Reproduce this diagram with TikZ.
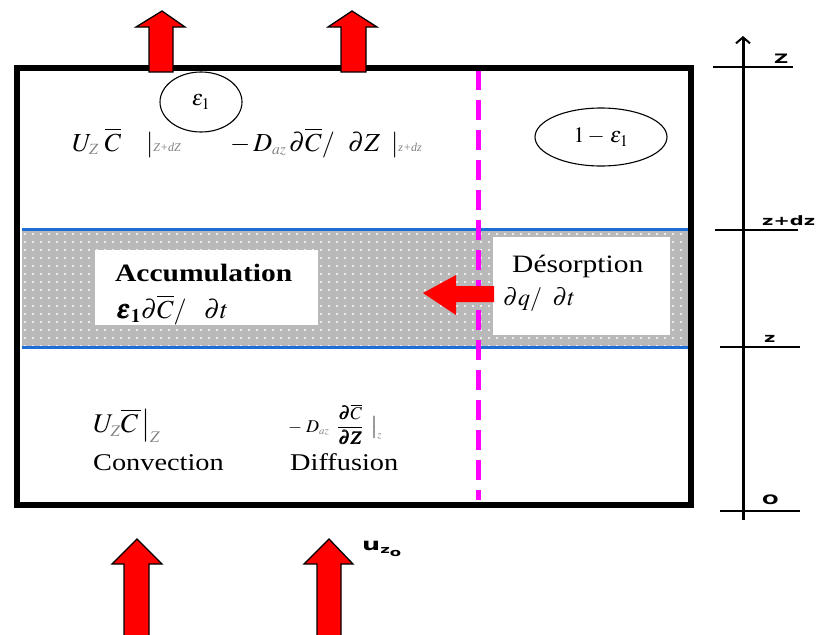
\documentclass[tikz,border=0pt]{standalone}
\usepackage{amsmath}
\usepackage{mathptmx}
\usepackage{bm}
\usepackage{fontspec}
\setmainfont{Liberation Serif}
\newfontfamily\widefont{Liberation Serif}[FakeStretch=1.18]
\newfontfamily\axfont{DejaVu Sans}[FakeStretch=1.5]
\usetikzlibrary{shapes.geometric,patterns.meta,arrows.meta}
\definecolor{bandblue}{RGB}{30,110,215}
\definecolor{bandgray}{RGB}{185,185,185}
\definecolor{mag}{RGB}{255,0,255}
\newcommand\sbx[1]{\textcolor{gray}{\scriptscriptstyle #1}}
\newcommand\lowtxt[1]{\textcolor{gray}{\fontsize{12}{13}\selectfont\itshape #1}}
\tikzdeclarepattern{name=mydots, type=uncolored,
  bottom left={(0pt,0pt)}, top right={(8pt,8pt)}, tile size={(8pt,8pt)},
  code={\fill (0pt,0pt) rectangle (2pt,2pt);}}
\tikzset{
  txt/.style={inner sep=0pt, font=\widefont\fontsize{24}{28}\selectfont},
  axlab/.style={inner sep=0pt, font=\axfont\bfseries\fontsize{13}{15}\selectfont},
  whitebox/.style={fill=white, draw=none, inner sep=0pt, anchor=north west},
  upblock/.style={fill=red, draw=black, line width=1.3pt, line join=miter},
  tick/.style={line width=1.3pt},
  ell/.style={ellipse, draw=black, line width=1.1pt, inner sep=0pt}
}
\begin{document}
\begin{tikzpicture}[x=1pt,y=-1pt]
\useasboundingbox (0,0) rectangle (839,635);
% packed bed band
\fill[bandgray] (22,231) rectangle (688,346);
\fill[pattern=mydots, pattern color=white!75!bandgray] (22,231) rectangle (688,346);
\draw[bandblue, line width=3pt] (22,229) -- (688,229);
\draw[bandblue, line width=3pt] (22,347) -- (688,347);
% white boxes
\node[whitebox, minimum width=223pt, minimum height=75pt] (accbox) at (95,250) {};
\node[whitebox, minimum width=177pt, minimum height=98pt] (desbox) at (493,237) {};
% magenta dashed line
\coordinate (mtop) at (478,70);
\coordinate (mbot) at (478,500);
\draw[mag, line width=5pt, dash pattern=on 20pt off 10pt] (mtop) -- (mbot);
% red desorption arrow
\fill[red] (423,293) -- (456,275) -- (456,286) -- (494,286) -- (494,302) -- (456,302) -- (456,315) -- cycle;
% column frame
\draw[line width=6pt] (17,68) rectangle (691,505);
% outlet arrows
\draw[upblock] (149,72) -- (149,27) -- (136,27) -- (162,11) -- (185,27) -- (173,27) -- (173,72) -- cycle;
\draw[upblock] (341,72) -- (341,27) -- (328,27) -- (352,11) -- (377,27) -- (366,27) -- (366,72) -- cycle;
% inlet arrows
\draw[upblock] (124,640) -- (124,564) -- (112,564) -- (137,539) -- (162,564) -- (149,564) -- (149,640) -- cycle;
\draw[upblock] (317,640) -- (317,564) -- (304,564) -- (329,539) -- (353,564) -- (341,564) -- (341,640) -- cycle;
\node[inner sep=0pt, anchor=base west, font=\axfont\bfseries\fontsize{17}{19}\selectfont] (uz) at (362,550) {u\raisebox{-3pt}{\fontsize{11}{12}\selectfont z\raisebox{-3pt}{o}}};
% porosity ellipses
\node[ell, minimum width=82pt, minimum height=60pt, font=\fontsize{22}{26}\selectfont] (e1) at (201,102) {$\varepsilon_1$};
\node[ell, minimum width=132pt, minimum height=58pt, font=\fontsize{22}{26}\selectfont] (e2) at (601,137) {$1-\,\varepsilon_1$};
% top flux
\node[txt, anchor=base west, font=\fontsize{26}{30}\selectfont] (t1) at (72,151) {$U_{\sbx{Z}}\;\overline{C}$};
\node[txt, anchor=base west, font=\fontsize{26}{30}\selectfont] (t2) at (146,151) {$|$\lowtxt{Z+dZ}};
\node[txt, anchor=base west, font=\fontsize{26}{30}\selectfont] (t3) at (230,151) {$-\,D_{\sbx{az}}$};
\node[txt, anchor=base west, font=\fontsize{26}{30}\selectfont] (t4) at (289,151) {$\partial\overline{C}/$};
\node[txt, anchor=base west, font=\fontsize{26}{30}\selectfont] (t5) at (348,151) {$\partial Z$};
\node[txt, anchor=base west, font=\fontsize{26}{30}\selectfont] (t6) at (391,151) {$|$\lowtxt{z+dz}};
% accumulation
\node[txt, anchor=base west, font=\widefont\bfseries\fontsize{25}{28}\selectfont] (acc) at (115,281) {Accumulation};
\node[txt, anchor=base west, font=\fontsize{26}{30}\selectfont] (accf) at (116,318) {$\bm{\varepsilon}_{\mathbf{1}}\partial\overline{C}/\;\;\;\partial t$};
% desorption
\node[txt, anchor=base west, font=\widefont\fontsize{25}{28}\selectfont] (des) at (512,272) {Désorption};
\node[txt, anchor=base west] (desf) at (503,305) {$\partial q/\;\;\partial t$};
% bottom terms
\node[txt, anchor=base west, font=\fontsize{27}{30}\selectfont] (conf) at (93,432) {$U_{\sbx{Z}}\overline{C\,}\big|_{\sbx{Z}}$};
\node[txt, anchor=base west] (conv) at (93,470) {Convection};
\node[txt, anchor=base west, font=\widefont\fontsize{18}{20}\selectfont] (diff) at (288,432) {$-\;D_{\sbx{az}}\;\;\dfrac{\bm{\partial\overline{C}}}{\bm{\partial Z}}\;\;\big|_{\sbx{z}}$};
\node[txt, anchor=base west] (difw) at (290,470) {Diffusion};
% axis
\coordinate (abot) at (743,520);
\coordinate (atop) at (743,36);
\draw[line width=3pt, -{Straight Barb[length=6pt,width=14pt,line width=2pt]}] (abot) -- (atop);
\coordinate (tZa) at (713,67);  \coordinate (tZb) at (793,67);
\coordinate (tDa) at (715,230); \coordinate (tDb) at (798,230);
\coordinate (tza) at (720,347); \coordinate (tzb) at (800,347);
\coordinate (tOa) at (720,511); \coordinate (tOb) at (800,511);
\draw[tick] (tZa) -- (tZb);
\draw[tick] (tDa) -- (tDb);
\draw[tick] (tza) -- (tzb);
\draw[tick] (tOa) -- (tOb);
\node[axlab, anchor=south west] (lZ) at (774,64) {Z};
\node[axlab, anchor=south west] (lD) at (762,226) {z+dz};
\node[axlab, anchor=south west] (lz) at (764,343) {z};
\node[axlab, anchor=south west] (lO) at (762,505) {O};
\end{tikzpicture}
\end{document}
